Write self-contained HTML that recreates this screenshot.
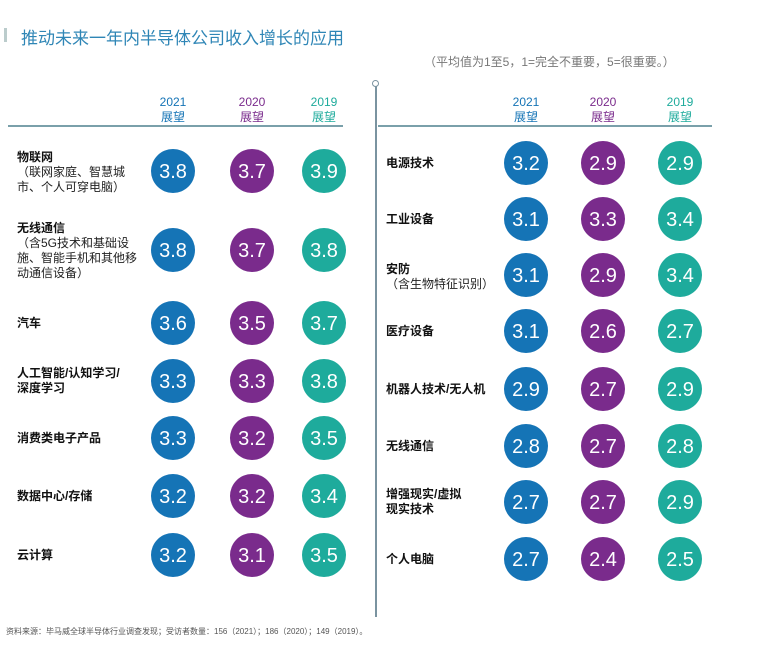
<!DOCTYPE html>
<html><head><meta charset="utf-8"><style>
body{margin:0;width:765px;height:645px;background:#fff;position:relative;overflow:hidden;font-family:"Liberation Sans","Noto Sans CJK SC",sans-serif;}
.a{position:absolute;}
.c{position:absolute;width:44px;height:44px;border-radius:50%;color:#fff;font-size:20px;line-height:47px;text-align:center;}
.b{background:#1574b6;}.p{background:#7a2b8c;}.t{background:#1eab9c;}
.h{position:absolute;width:60px;text-align:center;font-size:12px;line-height:15px;}
.l{position:absolute;font-size:12px;line-height:15px;color:#222;}
.l b{font-weight:bold;color:#111;}
</style></head><body>
<div class="a" style="left:4px;top:28px;width:3px;height:14px;background:#bcc;"></div>
<div class="a" style="left:21px;top:24px;font-size:17px;color:#2f86b6;">推动未来一年内半导体公司收入增长的应用</div>
<div class="a" style="left:424px;top:53px;font-size:12px;color:#777;">（平均值为1至5，1=完全不重要，5=很重要。）</div>
<div class="a" style="left:8px;top:125px;width:335px;height:2px;background:#7aa0aa;"></div>
<div class="a" style="left:378px;top:125px;width:334px;height:2px;background:#7aa0aa;"></div>
<div class="a" style="left:375px;top:84px;width:2px;height:533px;background:#7a93a0;"></div>
<div class="a" style="left:372px;top:80px;width:5px;height:5px;border:1px solid #7a93a0;border-radius:50%;background:#fff;"></div>
<div class="h" style="left:143px;top:95px;color:#1574b6">2021<br>展望</div>
<div class="h" style="left:222px;top:95px;color:#7a2b8c">2020<br>展望</div>
<div class="h" style="left:294px;top:95px;color:#1eab9c">2019<br>展望</div>
<div class="h" style="left:496px;top:95px;color:#1574b6">2021<br>展望</div>
<div class="h" style="left:573px;top:95px;color:#7a2b8c">2020<br>展望</div>
<div class="h" style="left:650px;top:95px;color:#1eab9c">2019<br>展望</div>

<div class="l" style="left:17px;top:150px"><b>物联网</b><br>（联网家庭、智慧城<br>市、个人可穿电脑）</div>
<div class="l" style="left:17px;top:221px"><b>无线通信</b><br>（含5G技术和基础设<br>施、智能手机和其他移<br>动通信设备）</div>
<div class="l" style="left:17px;top:316px"><b>汽车</b></div>
<div class="l" style="left:17px;top:366px"><b>人工智能/认知学习/<br>深度学习</b></div>
<div class="l" style="left:17px;top:431px"><b>消费类电子产品</b></div>
<div class="l" style="left:17px;top:489px"><b>数据中心/存储</b></div>
<div class="l" style="left:17px;top:548px"><b>云计算</b></div>

<div class="l" style="left:386px;top:156px"><b>电源技术</b></div>
<div class="l" style="left:386px;top:212px"><b>工业设备</b></div>
<div class="l" style="left:386px;top:262px"><b>安防</b><br>（含生物特征识别）</div>
<div class="l" style="left:386px;top:324px"><b>医疗设备</b></div>
<div class="l" style="left:386px;top:382px"><b>机器人技术/无人机</b></div>
<div class="l" style="left:386px;top:439px"><b>无线通信</b></div>
<div class="l" style="left:386px;top:487px"><b>增强现实/虚拟<br>现实技术</b></div>
<div class="l" style="left:386px;top:552px"><b>个人电脑</b></div>

<div class="c b" style="left:151px;top:149px">3.8</div><div class="c p" style="left:230px;top:149px">3.7</div><div class="c t" style="left:302px;top:149px">3.9</div>
<div class="c b" style="left:151px;top:228px">3.8</div><div class="c p" style="left:230px;top:228px">3.7</div><div class="c t" style="left:302px;top:228px">3.8</div>
<div class="c b" style="left:151px;top:301px">3.6</div><div class="c p" style="left:230px;top:301px">3.5</div><div class="c t" style="left:302px;top:301px">3.7</div>
<div class="c b" style="left:151px;top:359px">3.3</div><div class="c p" style="left:230px;top:359px">3.3</div><div class="c t" style="left:302px;top:359px">3.8</div>
<div class="c b" style="left:151px;top:416px">3.3</div><div class="c p" style="left:230px;top:416px">3.2</div><div class="c t" style="left:302px;top:416px">3.5</div>
<div class="c b" style="left:151px;top:474px">3.2</div><div class="c p" style="left:230px;top:474px">3.2</div><div class="c t" style="left:302px;top:474px">3.4</div>
<div class="c b" style="left:151px;top:533px">3.2</div><div class="c p" style="left:230px;top:533px">3.1</div><div class="c t" style="left:302px;top:533px">3.5</div>

<div class="c b" style="left:504px;top:141px">3.2</div><div class="c p" style="left:581px;top:141px">2.9</div><div class="c t" style="left:658px;top:141px">2.9</div>
<div class="c b" style="left:504px;top:197px">3.1</div><div class="c p" style="left:581px;top:197px">3.3</div><div class="c t" style="left:658px;top:197px">3.4</div>
<div class="c b" style="left:504px;top:253px">3.1</div><div class="c p" style="left:581px;top:253px">2.9</div><div class="c t" style="left:658px;top:253px">3.4</div>
<div class="c b" style="left:504px;top:309px">3.1</div><div class="c p" style="left:581px;top:309px">2.6</div><div class="c t" style="left:658px;top:309px">2.7</div>
<div class="c b" style="left:504px;top:367px">2.9</div><div class="c p" style="left:581px;top:367px">2.7</div><div class="c t" style="left:658px;top:367px">2.9</div>
<div class="c b" style="left:504px;top:424px">2.8</div><div class="c p" style="left:581px;top:424px">2.7</div><div class="c t" style="left:658px;top:424px">2.8</div>
<div class="c b" style="left:504px;top:480px">2.7</div><div class="c p" style="left:581px;top:480px">2.7</div><div class="c t" style="left:658px;top:480px">2.9</div>
<div class="c b" style="left:504px;top:537px">2.7</div><div class="c p" style="left:581px;top:537px">2.4</div><div class="c t" style="left:658px;top:537px">2.5</div>

<div class="a" style="left:6px;top:626px;font-size:8px;color:#555;">资料来源：毕马威全球半导体行业调查发现；受访者数量：156（2021）；186（2020）；149（2019）。</div>
</body></html>
